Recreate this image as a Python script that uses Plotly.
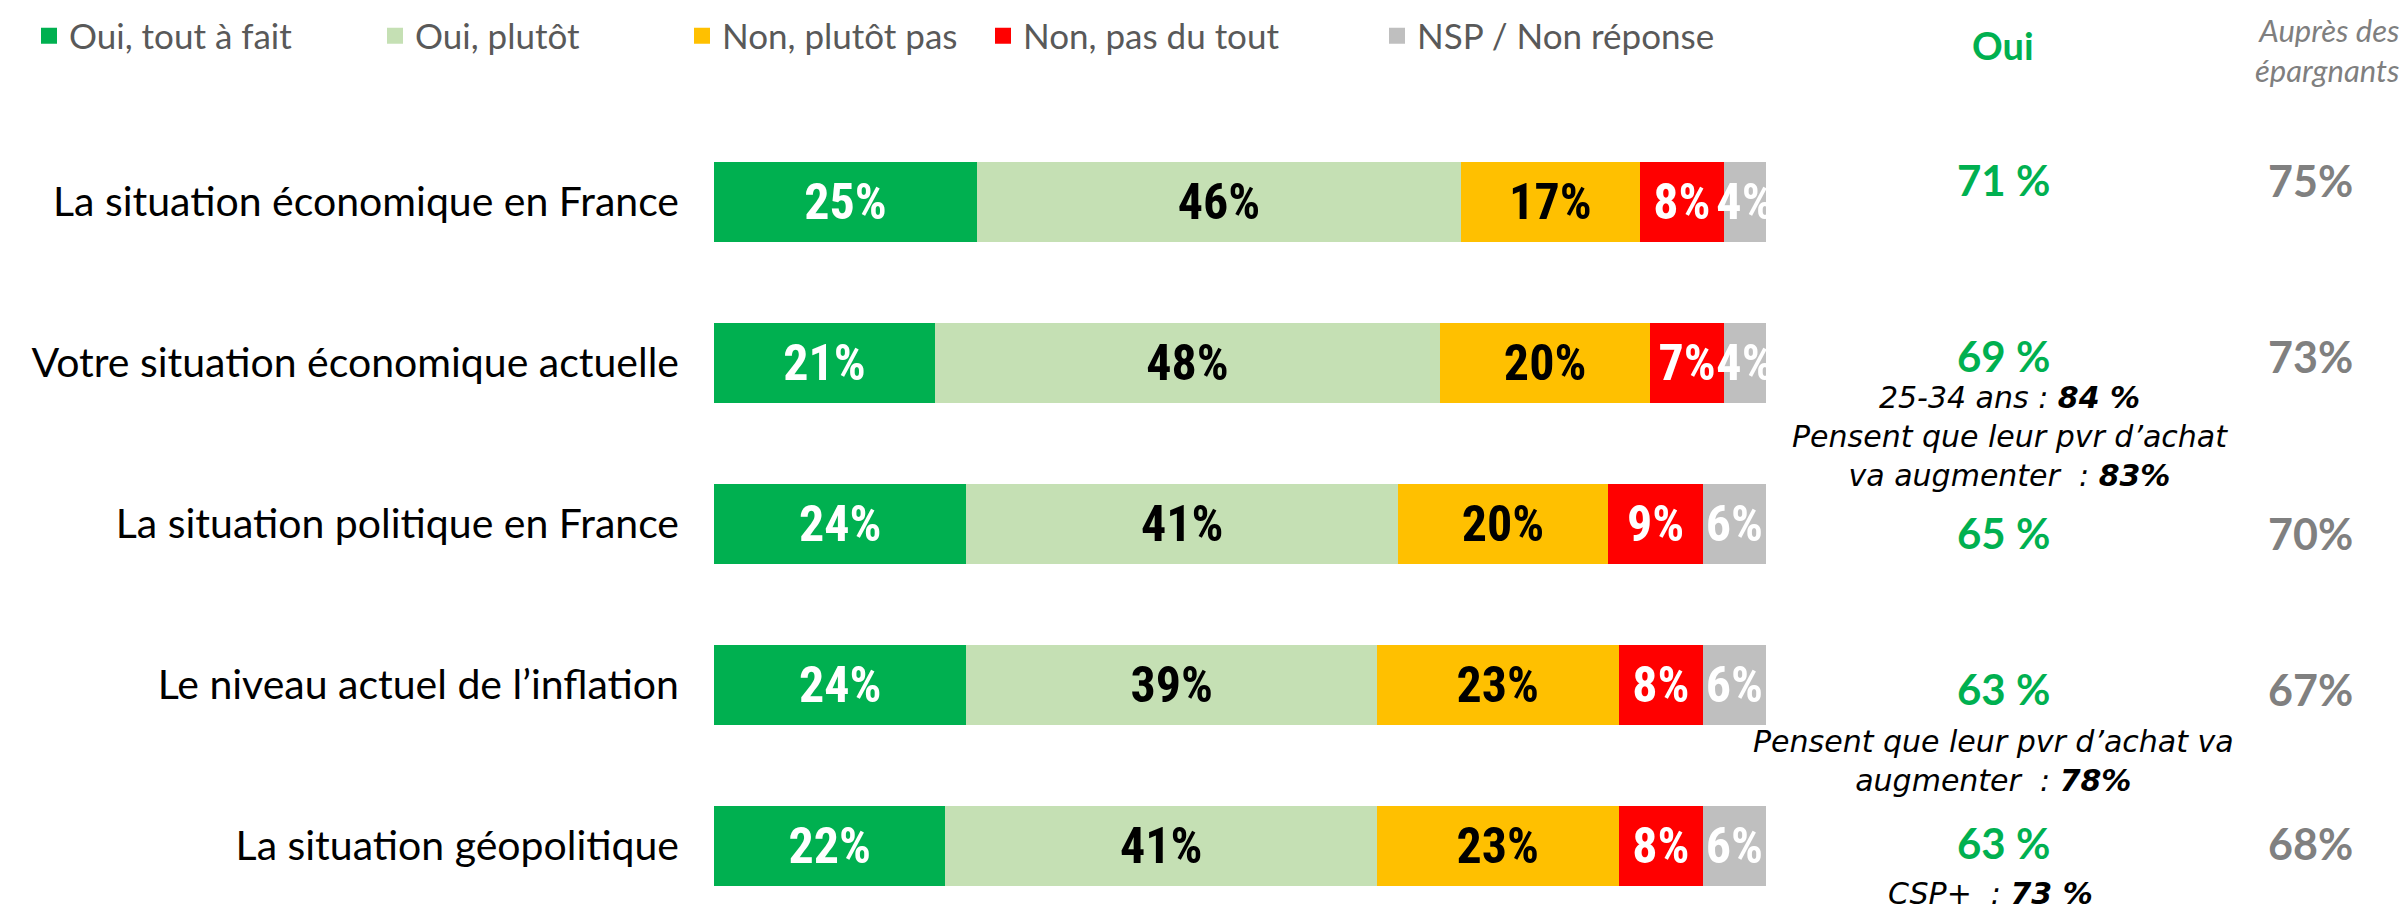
import plotly.graph_objects as go

# ---------------- data ----------------
categories = [
    "La situation économique en France",
    "Votre situation économique actuelle",
    "La situation politique en France",
    "Le niveau actuel de l’inflation",
    "La situation géopolitique",
]
series_names = ["Oui, tout à fait", "Oui, plutôt", "Non, plutôt pas", "Non, pas du tout", "NSP / Non réponse"]
oui_tout_a_fait = [25, 21, 24, 24, 22]
oui_plutot = [46, 48, 41, 39, 41]
non_plutot_pas = [17, 20, 20, 23, 23]
non_pas_du_tout = [8, 7, 9, 8, 8]
nsp = [4, 4, 6, 6, 6]
oui_total = [71, 69, 65, 63, 63]
epargnants = [75, 73, 70, 67, 68]
notes = {
    1: ["25-34 ans : <b>84 %</b>", "Pensent que leur pvr d’achat", "va augmenter  : <b>83%</b>"],
    3: ["Pensent que leur pvr d’achat va", "augmenter  : <b>78%</b>"],
    4: ["CSP+  : <b>73 %</b>"],
}

series_values = [oui_tout_a_fait, oui_plutot, non_plutot_pas, non_pas_du_tout, nsp]
colors = ["#00B050", "#C5E0B4", "#FFC000", "#FF0000", "#BFBFBF"]
text_colors = ["white", "black", "black", "white", "white"]

# ---------------- geometry (page pixels; the page body has an 8px margin) ----------------
OFF = 8
W, H = 2407 - OFF, 913 - OFF
ML, MR, MT, MB = 706, 641, 73, 8
PW, PH = W - ML - MR, H - MT - MB


def px_x(p):
    return (p - OFF - ML) / PW


def px_y(p):
    return 1 - (p - OFF - MT) / PH


LATO = "Lato, 'Open Sans', sans-serif"
DEJAVU = "'DejaVu Sans', sans-serif"
NARROW = "'Liberation Sans Narrow', 'Arial Narrow', 'Roboto Condensed', Roboto, sans-serif"

fig = go.Figure()
for i, (name, vals) in enumerate(zip(series_names, series_values)):
    fig.add_trace(go.Bar(
        y=categories, x=vals, name=name, orientation="h",
        marker=dict(color=colors[i], line=dict(width=0)),
        width=0.5,
        texttemplate="%{x}%", textposition="inside", insidetextanchor="middle",
        textangle=0,
        textfont=dict(family=NARROW, size=50, color=text_colors[i], weight="bold"),
        cliponaxis=True,
        showlegend=False, hoverinfo="skip",
    ))

# legend entries (one legend per item so each can be placed freely)
legend_centers = [50, 396, 703, 1004, 1398]
for i, name in enumerate(series_names):
    lg = "legend" if i == 0 else f"legend{i+1}"
    fig.add_trace(go.Scatter(
        x=[None], y=[None], mode="markers", name=name,
        marker=dict(symbol="square", size=16, color=colors[i]),
        showlegend=True, legend=lg,
    ))

legend_common = dict(
    orientation="h", xref="container", yref="container",
    yanchor="middle", xanchor="left", y=1 - (36 - OFF) / H,
    font=dict(family=LATO, size=35, color="#595959"),
    bgcolor="rgba(0,0,0,0)", borderwidth=0,
)
legend_layout = {}
for i, c in enumerate(legend_centers):
    key = "legend" if i == 0 else f"legend{i+1}"
    legend_layout[key] = dict(legend_common, x=(c - OFF - 21) / W)

annotations = []
# headers
annotations.append(dict(xref="paper", yref="paper", x=px_x(2003), y=px_y(45),
                        text="<b>Oui</b>", showarrow=False, xanchor="center", yanchor="middle",
                        font=dict(family=LATO, size=38, color="#00B050")))
annotations.append(dict(xref="paper", yref="paper", x=px_x(2401), y=px_y(50),
                        text="<i>Auprès des<br>épargnants</i>", showarrow=False, xanchor="right",
                        yanchor="middle", align="right",
                        font=dict(family=LATO, size=31, color="#7F7F7F")))

value_y = [180, 356, 533, 689, 843]
for i in range(len(categories)):
    annotations.append(dict(xref="paper", yref="paper", x=px_x(2003), y=px_y(value_y[i]),
                            text=f"<b>{oui_total[i]} %</b>", showarrow=False,
                            xanchor="center", yanchor="middle",
                            font=dict(family=LATO, size=42, color="#00B050")))
    annotations.append(dict(xref="paper", yref="paper", x=px_x(2310), y=px_y(value_y[i]),
                            text=f"<b>{epargnants[i]}%</b>", showarrow=False,
                            xanchor="center", yanchor="middle",
                            font=dict(family=LATO, size=43, color="#808080")))

note_pos = {1: (2010, 436), 3: (1993, 761), 4: (1990, 893)}
for i, lines in notes.items():
    x, y = note_pos[i]
    annotations.append(dict(xref="paper", yref="paper", x=px_x(x), y=px_y(y),
                            text="<i>" + "<br>".join(lines) + "</i>", showarrow=False,
                            xanchor="center", yanchor="middle", align="center",
                            font=dict(family=DEJAVU, size=30, color="black")))

fig.update_layout(
    width=W, height=H,
    margin=dict(l=ML, r=MR, t=MT, b=MB, pad=0),
    barmode="stack",
    plot_bgcolor="white", paper_bgcolor="white",
    uniformtext=dict(minsize=50, mode="show"),
    xaxis=dict(range=[0, 100], visible=False, fixedrange=True),
    yaxis=dict(range=[4.368, -0.75], showgrid=False, zeroline=False, showline=False,
               ticks="", ticklabelstandoff=34,
               tickfont=dict(family=LATO, size=41, color="black")),
    annotations=annotations,
    **legend_layout,
)

fig.write_html("out.html")
